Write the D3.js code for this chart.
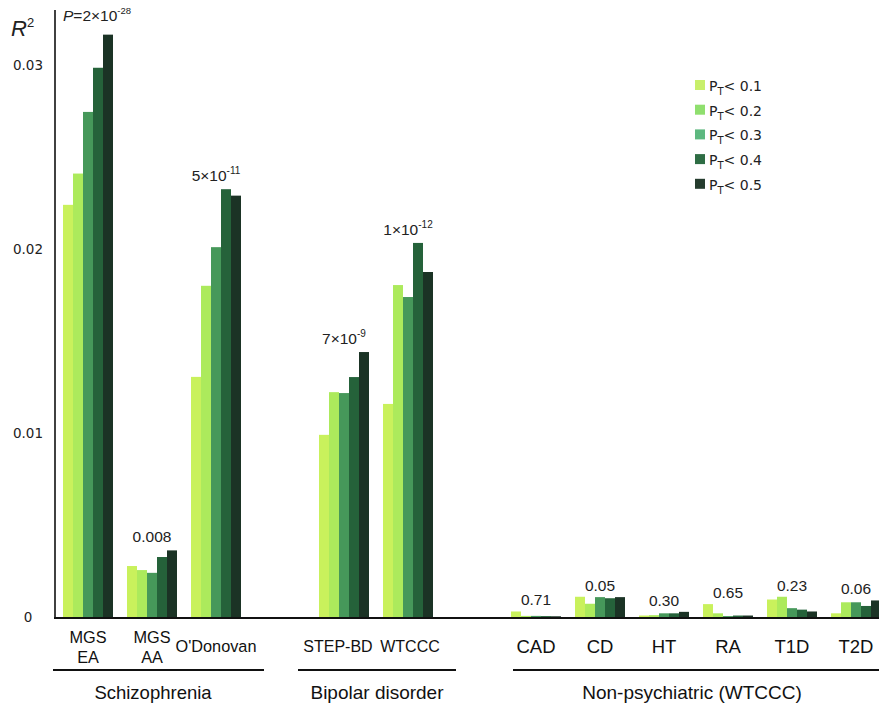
<!DOCTYPE html>
<html><head><meta charset="utf-8">
<script src="https://cdn.jsdelivr.net/npm/d3@7"></script>
<style>body{margin:0;background:#fff;} svg{display:block;font-family:"Liberation Sans",Arial,sans-serif;}</style>
</head><body>
<script>
// ---- data ----
const slots = ["MGS EA","MGS AA","O'Donovan","gap1","STEP-BD","WTCCC","gap2","CAD","CD","HT","RA","T1D","T2D"];
const studies = ["MGS EA","MGS AA","O'Donovan","STEP-BD","WTCCC","CAD","CD","HT","RA","T1D","T2D"];
const thresholds = ["0.1","0.2","0.3","0.4","0.5"];
const colors = ["#c9f15c","#acea5c","#46985a","#25623a","#1b3325"];
const legendColors = ["#c8ef6a","#8fdf6e","#5db87f","#2e6d44","#253c2e"];
const r2 = {
  "MGS EA":   [0.02240, 0.02410, 0.02745, 0.02985, 0.03165],
  "MGS AA":   [0.00277, 0.00255, 0.00240, 0.00326, 0.00362],
  "O'Donovan":[0.01305, 0.01800, 0.02010, 0.02325, 0.02290],
  "STEP-BD":  [0.00990, 0.01222, 0.01217, 0.01304, 0.01440],
  "WTCCC":    [0.01158, 0.01804, 0.01739, 0.02033, 0.01875],
  "CAD":      [0.00030, 0.00006, 0.00006, 0.00005, 0.00004],
  "CD":       [0.00110, 0.00072, 0.00108, 0.00102, 0.00108],
  "HT":       [0.00008, 0.00010, 0.00020, 0.00020, 0.00028],
  "RA":       [0.00070, 0.00020, 0.00005, 0.00008, 0.00008],
  "T1D":      [0.00095, 0.00110, 0.00048, 0.00040, 0.00030],
  "T2D":      [0.00020, 0.00080, 0.00080, 0.00060, 0.00090]
};
const pLabels = {
  "MGS AA":["0.008",null],"O'Donovan":["5×10","-11"],"STEP-BD":["7×10","-9"],"WTCCC":["1×10","-12"],
  "CAD":["0.71",null],"CD":["0.05",null],"HT":["0.30",null],"RA":["0.65",null],"T1D":["0.23",null],"T2D":["0.06",null]
};
const catLabels = {"MGS EA":["MGS","EA"],"MGS AA":["MGS","AA"],"O'Donovan":["O'Donovan"],"STEP-BD":["STEP-BD"],"WTCCC":["WTCCC"],
  "CAD":["CAD"],"CD":["CD"],"HT":["HT"],"RA":["RA"],"T1D":["T1D"],"T2D":["T2D"]};
const nonPsych = ["CAD","CD","HT","RA","T1D","T2D"];
const groups = [
  {name:"Schizophrenia", from:"MGS EA", to:"O'Donovan"},
  {name:"Bipolar disorder", from:"STEP-BD", to:"WTCCC"},
  {name:"Non-psychiatric (WTCCC)", from:"CAD", to:"T2D"}
];
const yTicks = [0, 0.01, 0.02, 0.03];
const yTickLabels = ["0","0.01","0.02","0.03"];

// ---- chart ----
const W = 879, H = 704;
const svg = d3.select("body").append("svg").attr("width", W).attr("height", H);

const x = d3.scaleBand().domain(slots).range([63, 63 + 13*64 - 14]).paddingInner(14/64).paddingOuter(0);
const xi = d3.scaleBand().domain(thresholds).range([0, x.bandwidth()]);
const y = d3.scaleLinear().domain([0, 0.03]).range([617, 65]);

// bars
const g = svg.append("g");
studies.forEach(s => {
  g.selectAll(null).data(r2[s]).join("rect")
    .attr("x", (d,i) => x(s) + xi(thresholds[i]))
    .attr("y", d => y(d))
    .attr("width", xi.bandwidth())
    .attr("height", d => y(0) - y(d))
    .attr("fill", (d,i) => colors[i]);
});

// y axis
const yAxis = svg.append("g").attr("transform", "translate(28,0)")
  .call(d3.axisLeft(y).tickValues(yTicks).tickSize(0).tickFormat((d,i) => yTickLabels[i]));
yAxis.select(".domain").remove();
yAxis.selectAll("text").attr("x", 0).attr("text-anchor","middle")
  .style("font-family","'DejaVu Sans',sans-serif").style("font-size","13.5px").attr("fill","#222");
svg.append("line").attr("x1",55).attr("x2",55).attr("y1",10).attr("y2",619).attr("stroke","#111").attr("stroke-width",1.6);
svg.append("line").attr("x1",54).attr("x2",W).attr("y1",618).attr("y2",618).attr("stroke","#111").attr("stroke-width",2.2);

// R^2 title
const rt = svg.append("text").attr("x",11).attr("y",36).style("font-size","22px").style("font-style","italic").attr("fill","#222");
rt.append("tspan").text("R");
rt.append("tspan").text("2").attr("dy",-9).style("font-size","13px").style("font-style","normal");

// P top label
const pt = svg.append("text").attr("x",63).attr("y",21).style("font-size","15.5px").attr("fill","#222");
pt.append("tspan").text("P").style("font-style","italic");
pt.append("tspan").text("=2×10");
pt.append("tspan").text("-28").attr("dy",-7).style("font-size","9.5px");

// p-value labels
studies.forEach(s => {
  const lab = pLabels[s]; if (!lab) return;
  const top = y(d3.max(r2[s]));
  const cx = x(s) + x.bandwidth()/2;
  const np = nonPsych.includes(s);
  const t = svg.append("text").attr("x", cx).attr("y", top - (np ? 6 : 8)).attr("text-anchor","middle")
    .style("font-size", "15.5px").attr("fill","#222");
  t.append("tspan").text(lab[0]);
  if (lab[1]) t.append("tspan").text(lab[1]).attr("dy",-7).style("font-size","10px");
});

// category labels
const labelShift = {"STEP-BD":-6, "WTCCC":2};
studies.forEach(s => {
  const lines = catLabels[s];
  const cx = x(s) + x.bandwidth()/2 + (labelShift[s] || 0);
  const size = nonPsych.includes(s) ? "18.5px" : (labelShift[s] !== undefined ? "16px" : "16.3px");
  const t = svg.append("text").attr("x", cx).attr("text-anchor","middle")
    .style("font-size", size).attr("fill","#111");
  if (lines.length === 2) {
    t.attr("y", 643);
    t.append("tspan").attr("x", cx).text(lines[0]);
    t.append("tspan").attr("x", cx).attr("dy", 20).text(lines[1]);
  } else {
    t.attr("y", nonPsych.includes(s) ? 653 : 652).text(lines[0]);
  }
});

// group lines and names
const gx = {"Schizophrenia":[53,264], "Bipolar disorder":[298,456], "Non-psychiatric (WTCCC)":[513,W]};
const gc = {"Schizophrenia":153, "Bipolar disorder":377, "Non-psychiatric (WTCCC)":692};
groups.forEach(gr => {
  const [a,b] = gx[gr.name];
  svg.append("line").attr("x1",a).attr("x2",b).attr("y1",670).attr("y2",670).attr("stroke","#111").attr("stroke-width",2);
  svg.append("text").attr("x", gc[gr.name])
    .attr("y", 699).attr("text-anchor","middle").style("font-size", gr.name==="Schizophrenia" ? "18.5px" : "19px")
    .attr("fill","#111").text(gr.name);
});

// legend
const lg = svg.append("g").attr("transform","translate(695,80)");
thresholds.forEach((t,i) => {
  const row = lg.append("g").attr("transform",`translate(0,${i*24.7})`);
  row.append("rect").attr("x",0).attr("y",0).attr("width",10).attr("height",10).attr("fill",legendColors[i]);
  const tx = row.append("text").attr("x",14).attr("y",11).style("font-family","'DejaVu Sans',sans-serif").style("font-size","14px").attr("fill","#222");
  tx.append("tspan").text("P");
  tx.append("tspan").text("T").attr("dy",4).style("font-size","10px");
  tx.append("tspan").text("< " + t).attr("dy",-4);
});
</script>
</body></html>
